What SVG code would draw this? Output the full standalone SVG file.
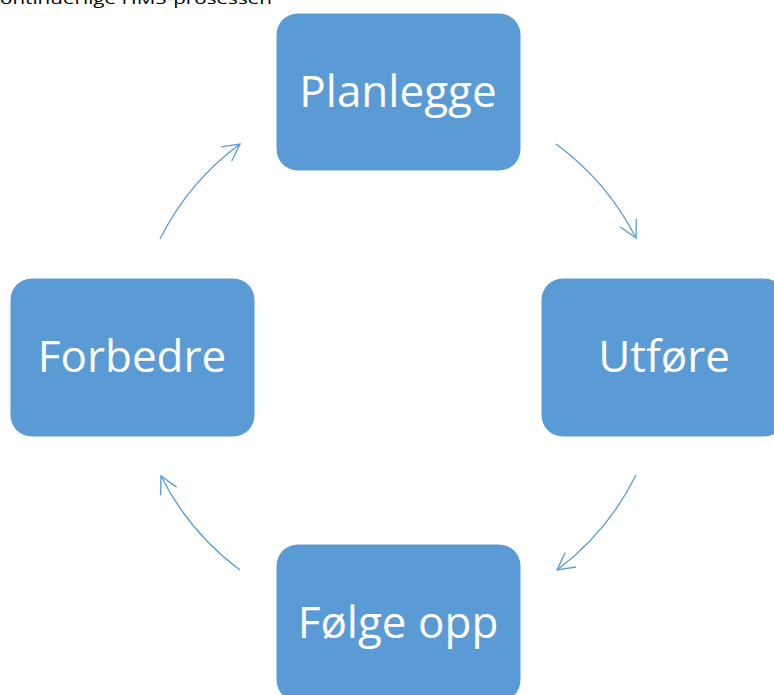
<svg xmlns="http://www.w3.org/2000/svg" width="774" height="695" viewBox="0 0 774 695">
<style>
.box{fill:#5B9BD5;stroke:#FFFFFF;stroke-width:1}
.lbl{font-family:"Open Sans","Noto Sans","Liberation Sans",sans-serif;font-size:44px;fill:#FFFFFF;text-anchor:middle}
.arc{fill:none;stroke:#5B9BD5;stroke-width:1.3}
.title{font-family:"Open Sans","Liberation Sans",sans-serif;font-size:15px;fill:#000000}
</style>
<defs>
<marker id="ah" markerUnits="userSpaceOnUse" viewBox="-20 -11 22 22" refX="0" refY="0" markerWidth="22" markerHeight="22" orient="auto">
<path d="M-17,-9 L0,0 L-17,9" fill="none" stroke="#5B9BD5" stroke-width="1.3"/>
</marker>
</defs>
<rect width="774" height="695" fill="#FFFFFF"/>
<text class="title" x="0" y="4" textLength="272" lengthAdjust="spacingAndGlyphs">ontinuerlige HMS-prosessen</text>
<g id="connectors">
<path class="arc" d="M556,144 A266,266 0 0 1 636,238" marker-end="url(#ah)"/>
<path class="arc" d="M636,475 A266,266 0 0 1 557,570" marker-end="url(#ah)"/>
<path class="arc" d="M240,570 A266,266 0 0 1 161,476" marker-end="url(#ah)"/>
<path class="arc" d="M160,239 A266,266 0 0 1 240,144" marker-end="url(#ah)"/>
</g>
<g id="planlegge">
<rect class="box" x="276" y="13" width="245" height="158" rx="22"/>
<text class="lbl" x="398" y="107">Planlegge</text>
</g>
<g id="utfore">
<rect class="box" x="541" y="278" width="245" height="159" rx="22"/>
<text class="lbl" x="664" y="372">Utføre</text>
</g>
<g id="folge-opp">
<rect class="box" x="276" y="544" width="245" height="158" rx="22"/>
<text class="lbl" x="398" y="638">Følge opp</text>
</g>
<g id="forbedre">
<rect class="box" x="10" y="278" width="245" height="159" rx="22"/>
<text class="lbl" x="132" y="372">Forbedre</text>
</g>
</svg>
